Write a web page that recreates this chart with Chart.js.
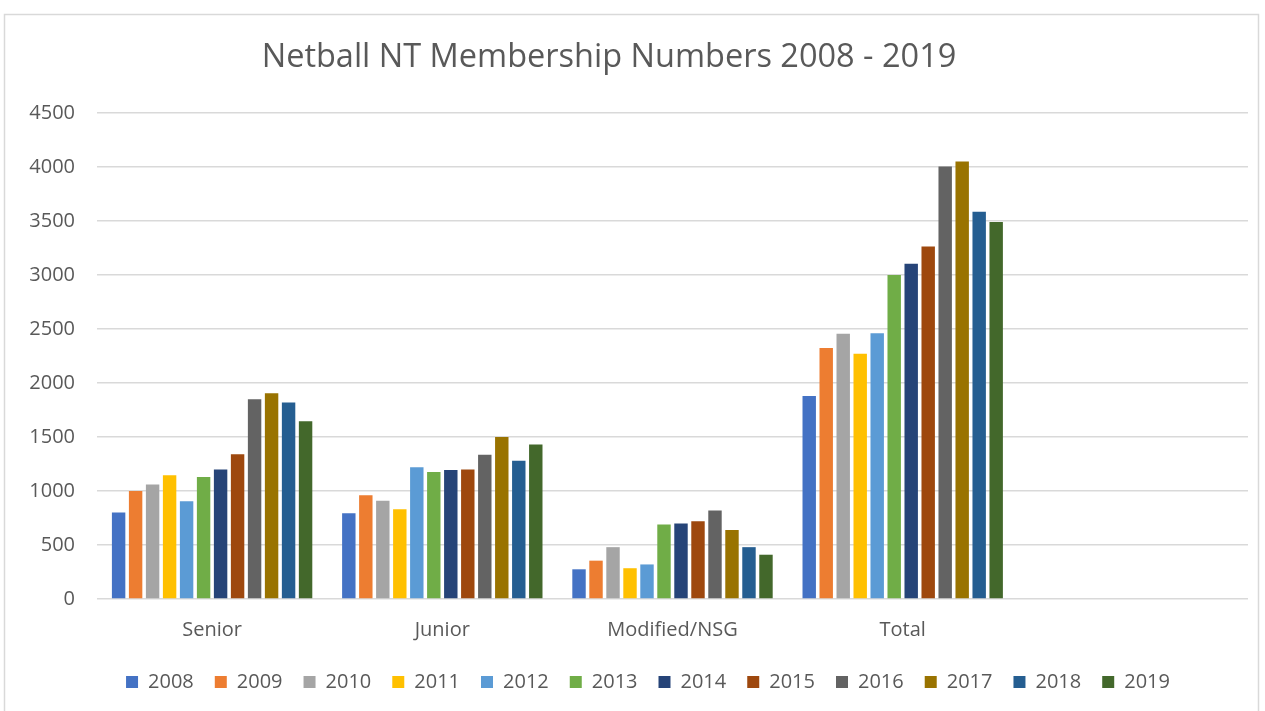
<!DOCTYPE html>
<html>
<head>
<meta charset="utf-8">
<script src="https://cdn.jsdelivr.net/npm/chart.js@4"></script>
<style>
  html, body { margin: 0; padding: 0; background: #fff; }
  canvas { display: block; }
</style>
</head>
<body>
<canvas id="chart" width="1265" height="711"></canvas>
<script>
// categories along the x axis (last slot is empty in the original)
const categories = ['Senior', 'Junior', 'Modified/NSG', 'Total', ''];
const years = ['2008', '2009', '2010', '2011', '2012', '2013', '2014', '2015', '2016', '2017', '2018', '2019'];

// membership numbers per year: [Senior, Junior, Modified/NSG, Total]
const y2008 = [800, 795, 275, 1880];
const y2009 = [1000, 960, 355, 2325];
const y2010 = [1060, 910, 480, 2455];
const y2011 = [1145, 830, 285, 2270];
const y2012 = [905, 1220, 320, 2460];
const y2013 = [1130, 1175, 690, 3000];
const y2014 = [1200, 1195, 700, 3105];
const y2015 = [1340, 1200, 720, 3265];
const y2016 = [1850, 1335, 820, 4005];
const y2017 = [1905, 1500, 640, 4050];
const y2018 = [1820, 1280, 480, 3585];
const y2019 = [1645, 1430, 410, 3490];

const yTicks = [0, 500, 1000, 1500, 2000, 2500, 3000, 3500, 4000, 4500];

const seriesValues = [y2008, y2009, y2010, y2011, y2012, y2013, y2014, y2015, y2016, y2017, y2018, y2019];
const colors = ['#4472C4', '#ED7D31', '#A5A5A5', '#FFC000', '#5B9BD5', '#70AD47',
                '#264478', '#9E480E', '#636363', '#997300', '#255E91', '#43682B'];

const titleText = 'Netball NT Membership Numbers 2008 - 2019';
const textColor = '#595959';
const gridColor = '#d9d9d9';
const fontFamily = '"Open Sans", "Liberation Sans", sans-serif';

// white background, light frame and the title (placed like the Excel original)
const frame = {
    id: 'frame',
    afterLayout(chart) {
        // the original legend sits a bit right of the canvas centre
        chart.legend.left += 24;
        chart.legend.right += 24;
    },
    beforeDraw(chart) {
        const ctx = chart.ctx;
        ctx.save();
        ctx.fillStyle = '#fff';
        ctx.fillRect(0, 0, chart.width, chart.height);
        ctx.strokeStyle = gridColor;
        ctx.lineWidth = 1.5;
        ctx.strokeRect(4.5, 14.5, 1254, 720);
        ctx.restore();
    },
    afterDraw(chart) {
        const ctx = chart.ctx;
        ctx.save();
        ctx.fillStyle = textColor;
        ctx.font = '32.5px ' + fontFamily;
        ctx.textAlign = 'center';
        ctx.textBaseline = 'middle';
        ctx.fillText(titleText, 609, 58);
        ctx.restore();
    }
};

new Chart(document.getElementById('chart'), {
    type: 'bar',
    data: {
        labels: categories,
        datasets: years.map((yr, i) => ({
            label: yr,
            data: seriesValues[i],
            backgroundColor: colors[i],
            borderWidth: 0,
            categoryPercentage: 0.886,
            barPercentage: 0.79
        }))
    },
    options: {
        responsive: false,
        animation: false,
        layout: { padding: { left: 0, right: 17, top: 113, bottom: 9 } },
        plugins: {
            title: { display: false },
            legend: {
                position: 'bottom',
                labels: {
                    color: textColor,
                    font: { family: fontFamily, size: 20 },
                    boxWidth: 12,
                    boxHeight: 12,
                    padding: 21
                }
            },
            tooltip: { enabled: false }
        },
        scales: {
            x: {
                grid: { display: false },
                border: { display: false },
                ticks: {
                    color: textColor,
                    font: { family: fontFamily, size: 20 },
                    padding: 11
                },
                afterFit(scale) { scale.height = 52; }
            },
            y: {
                min: 0,
                max: 4500,
                afterBuildTicks(scale) { scale.ticks = yTicks.map(v => ({ value: v })); },
                grid: { color: gridColor, lineWidth: 1.5, drawTicks: false },
                border: { display: false },
                ticks: {
                    color: textColor,
                    font: { family: fontFamily, size: 20 },
                    padding: 22,
                    callback: (v) => String(v)
                },
                afterFit(scale) { scale.width = 97; }
            }
        }
    },
    plugins: [frame]
});
</script>
</body>
</html>
